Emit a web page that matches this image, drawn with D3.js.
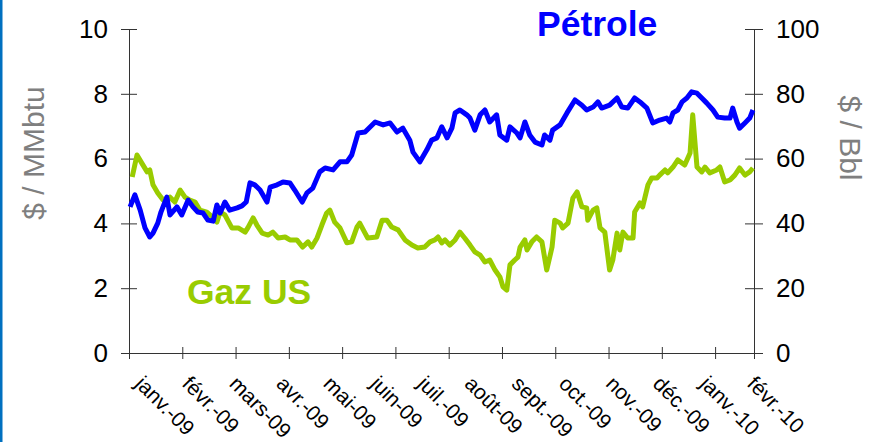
<!DOCTYPE html>
<html>
<head>
<meta charset="utf-8">
<script src="https://cdn.jsdelivr.net/npm/d3@7"></script>
<style>
  body { margin: 0; background: #fff; }
  text { font-family: "Liberation Sans", Arial, sans-serif; }
</style>
</head>
<body>
<div id="chart"></div>
<script>
// month labels of the x axis
const monthLabels = ['janv.-09', 'févr.-09', 'mars-09', 'avr.-09', 'mai-09', 'juin-09', 'juil.-09',
  'août-09', 'sept.-09', 'oct.-09', 'nov.-09', 'déc.-09', 'janv.-10', 'févr.-10'];
const gasTicks = [0, 2, 4, 6, 8, 10];
const oilTicks = [0, 20, 40, 60, 80, 100];

// time in months since 1 Jan 2009
const oilT = [0.02, 0.11, 0.21, 0.30, 0.39, 0.45, 0.54, 0.60, 0.71, 0.77, 0.90, 0.99, 1.11, 1.20, 1.29, 1.39, 1.48, 1.58, 1.65, 1.71,
  1.80, 1.89, 2.03, 2.12, 2.20, 2.27, 2.36, 2.46, 2.59, 2.65, 2.78, 2.89, 3.02, 3.11, 3.25, 3.34, 3.45, 3.58, 3.68, 3.83,
  3.96, 4.09, 4.18, 4.30, 4.43, 4.62, 4.77, 4.90, 5.03, 5.14, 5.27, 5.33, 5.46, 5.59, 5.68, 5.78, 5.87, 5.97, 6.06, 6.12,
  6.21, 6.34, 6.40, 6.49, 6.59, 6.68, 6.77, 6.90, 6.96, 7.09, 7.15, 7.28, 7.34, 7.43, 7.52, 7.62, 7.75, 7.80, 7.90, 7.95,
  8.09, 8.22, 8.37, 8.50, 8.59, 8.71, 8.80, 8.87, 9.02, 9.16, 9.25, 9.36, 9.49, 9.59, 9.72, 9.83, 9.96, 10.09, 10.15, 10.21,
  10.30, 10.38, 10.47, 10.56, 10.66, 10.75, 10.84, 10.96, 11.05, 11.18, 11.28, 11.33, 11.41, 11.46, 11.56, 11.65, 11.71];
// $/Bbl
const oilPrice = [45.1, 48.8, 44.1, 38.6, 35.8, 37.0, 40.1, 43.5, 48.1, 42.6, 45.1, 42.6, 47.2, 45.1, 43.5, 43.2, 41.0, 40.7, 45.7, 43.2,
  46.6, 44.1, 44.8, 45.4, 46.6, 52.5, 51.9, 50.3, 46.6, 51.2, 51.9, 52.8, 52.5, 50.3, 46.6, 49.4, 50.9, 55.9, 57.1, 56.5,
  59.0, 59.0, 61.1, 67.9, 68.2, 71.3, 70.4, 71.0, 68.2, 69.4, 65.7, 62.0, 59.0, 62.7, 65.7, 66.4, 69.8, 66.4, 69.4, 74.1,
  75.0, 73.5, 72.5, 68.8, 73.5, 75.0, 71.3, 73.5, 67.3, 65.7, 69.8, 67.9, 66.4, 71.3, 67.3, 65.1, 64.2, 67.3, 65.7, 68.8,
  70.4, 74.1, 78.1, 76.5, 75.0, 75.9, 77.5, 75.6, 76.5, 78.7, 75.9, 75.6, 78.7, 77.5, 75.6, 71.0, 71.9, 72.5, 71.3, 74.1,
  75.0, 77.5, 78.7, 80.6, 80.2, 78.7, 77.2, 75.0, 72.8, 72.5, 72.5, 75.6, 71.3, 69.4, 71.0, 72.5, 75.0];

const gasT = [0.06, 0.15, 0.24, 0.34, 0.39, 0.45, 0.54, 0.64, 0.77, 0.86, 0.96, 1.05, 1.14, 1.24, 1.33, 1.46, 1.56, 1.65, 1.71, 1.80,
  1.93, 2.05, 2.18, 2.23, 2.33, 2.40, 2.50, 2.61, 2.70, 2.80, 2.93, 3.02, 3.15, 3.26, 3.36, 3.43, 3.53, 3.62, 3.71, 3.77,
  3.86, 3.96, 4.09, 4.18, 4.28, 4.33, 4.43, 4.48, 4.65, 4.75, 4.84, 4.93, 5.05, 5.18, 5.31, 5.42, 5.55, 5.65, 5.74, 5.80,
  5.87, 5.93, 6.02, 6.12, 6.21, 6.30, 6.40, 6.49, 6.59, 6.68, 6.77, 6.87, 6.96, 7.02, 7.09, 7.15, 7.24, 7.30, 7.34, 7.43,
  7.47, 7.56, 7.65, 7.75, 7.84, 7.94, 7.99, 8.09, 8.14, 8.24, 8.33, 8.41, 8.50, 8.59, 8.61, 8.71, 8.78, 8.84, 8.93, 9.02,
  9.08, 9.16, 9.21, 9.27, 9.36, 9.46, 9.49, 9.59, 9.64, 9.74, 9.81, 9.91, 9.96, 10.06, 10.11, 10.21, 10.30, 10.43, 10.53, 10.58,
  10.66, 10.75, 10.81, 10.90, 11.03, 11.09, 11.18, 11.28, 11.37, 11.46, 11.56, 11.65, 11.71];
// $/MMbtu
const gasPrice = [5.43, 6.11, 5.86, 5.59, 5.65, 5.19, 4.94, 4.72, 4.81, 4.66, 5.03, 4.81, 4.72, 4.66, 4.41, 4.35, 4.20, 4.04, 4.35, 4.26,
  3.86, 3.86, 3.73, 3.86, 4.17, 3.95, 3.70, 3.64, 3.73, 3.55, 3.58, 3.49, 3.49, 3.27, 3.43, 3.27, 3.55, 3.95, 4.32, 4.41,
  4.04, 3.86, 3.40, 3.43, 3.89, 4.01, 3.70, 3.55, 3.58, 4.10, 4.10, 3.89, 3.80, 3.49, 3.33, 3.24, 3.27, 3.43, 3.49, 3.58,
  3.40, 3.49, 3.33, 3.49, 3.73, 3.55, 3.33, 3.12, 3.02, 2.81, 2.87, 2.56, 2.35, 2.04, 1.94, 2.72, 2.87, 2.96, 3.27, 3.49,
  3.18, 3.43, 3.58, 3.43, 2.56, 3.27, 4.10, 4.01, 3.86, 4.01, 4.78, 4.97, 4.51, 4.48, 4.10, 4.41, 4.48, 3.86, 3.73, 2.56,
  2.87, 3.70, 3.18, 3.73, 3.55, 3.55, 4.35, 4.63, 4.51, 5.19, 5.40, 5.40, 5.49, 5.65, 5.56, 5.74, 5.96, 5.80, 6.17, 7.35,
  5.74, 5.59, 5.74, 5.56, 5.65, 5.74, 5.28, 5.34, 5.49, 5.71, 5.49, 5.59, 5.71];

const width = 878, height = 442;
const margin = { top: 29, right: 124, bottom: 89, left: 129 };
const plotW = width - margin.left - margin.right;
const plotH = height - margin.top - margin.bottom;

const svg = d3.select('#chart').append('svg').attr('width', width).attr('height', height);

// blue edge on the left of the slide
svg.append('rect').attr('x', 0).attr('y', 0).attr('width', 2.5).attr('height', height).attr('fill', '#0070C0');

const g = svg.append('g').attr('transform', `translate(${margin.left},${margin.top})`);

const x = d3.scaleLinear().domain([0, 11.73]).range([0, plotW]);
const yGas = d3.scaleLinear().domain([0, 10]).range([plotH, 0]);
const yOil = d3.scaleLinear().domain([0, 100]).range([plotH, 0]);
const xLab = d3.scalePoint().domain(monthLabels).range([5, plotW - 8]);

const axisColor = '#333';
const tickFont = 26;

// left axis
const left = g.append('g').call(d3.axisLeft(yGas).tickValues(gasTicks).tickSizeOuter(0).tickSize(8).tickPadding(13));
left.selectAll('.tick line').attr('x2', 8).attr('x1', -8);
// right axis
const right = g.append('g').attr('transform', `translate(${plotW},0)`)
  .call(d3.axisRight(yOil).tickValues(oilTicks).tickSizeOuter(0).tickSize(8).tickPadding(14));
right.selectAll('.tick line').attr('x1', -9).attr('x2', 9);
// bottom axis
const bottom = g.append('g').attr('transform', `translate(0,${plotH})`)
  .call(d3.axisBottom(x).tickValues(d3.range(0, 12)).tickSizeOuter(0).tickSize(6).tickFormat(''));
bottom.selectAll('.tick line').attr('y1', -6).attr('y2', 6);

[left, right, bottom].forEach(a => {
  a.select('.domain').attr('stroke', axisColor);
  a.selectAll('.tick line').attr('stroke', axisColor);
  a.selectAll('.tick text').attr('fill', '#000').style('font-size', tickFont + 'px');
});

// month labels
g.selectAll('.month').data(monthLabels).enter().append('text')
  .attr('class', 'month')
  .attr('transform', d => `translate(${xLab(d)},${plotH + 32}) rotate(45)`)
  .attr('text-anchor', 'start')
  .style('font-size', '21px')
  .attr('fill', '#000')
  .text(d => d);

// lines
const gasLine = d3.line().x((d, i) => x(gasT[i])).y(d => yGas(d));
const oilLine = d3.line().x((d, i) => x(oilT[i])).y(d => yOil(d));

g.append('path').datum(gasPrice).attr('d', gasLine)
  .attr('fill', 'none').attr('stroke', '#99CC00').attr('stroke-width', 5).attr('stroke-linejoin', 'round');
g.append('path').datum(oilPrice).attr('d', oilLine)
  .attr('fill', 'none').attr('stroke', '#0000FF').attr('stroke-width', 5).attr('stroke-linejoin', 'round');

// axis titles
svg.append('text')
  .attr('transform', `translate(44,153) rotate(-90)`)
  .attr('text-anchor', 'middle')
  .style('font-size', '30px')
  .attr('fill', '#7f7f7f')
  .text('$ / MMbtu');
svg.append('text')
  .attr('transform', `translate(840,138) rotate(90)`)
  .attr('text-anchor', 'middle')
  .style('font-size', '30px')
  .attr('fill', '#7f7f7f')
  .text('$ / Bbl');

// series labels
svg.append('text').attr('x', 537).attr('y', 36)
  .style('font-size', '35.5px').style('font-weight', 'bold').attr('fill', '#0000FF').text('Pétrole');
svg.append('text').attr('x', 187).attr('y', 304)
  .style('font-size', '35.5px').style('font-weight', 'bold').attr('fill', '#99CC00').text('Gaz US');
</script>
</body>
</html>
